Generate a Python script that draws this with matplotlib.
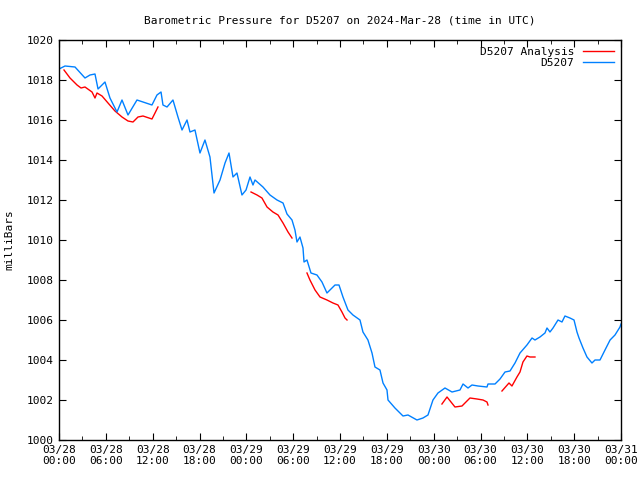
import numpy as np
import matplotlib
matplotlib.use("Agg")
import matplotlib.pyplot as plt
from matplotlib.ticker import MultipleLocator

# hours since 2024-03-28 00:00 UTC, pressure in mbar
obs_hours = [0, 0.77, 2.05, 3.33, 3.97, 4.61, 5.0, 5.89, 6.53, 7.43, 8.07, 8.84, 9.99,
             10.76, 11.91, 12.55, 13.07, 13.32, 13.84, 14.6, 15.24, 15.76, 16.4, 16.78,
             17.42, 18.06, 18.7, 19.34, 19.86, 20.63, 21.27, 21.78, 22.29, 22.8, 23.44,
             23.96, 24.47, 24.85, 25.11, 26.13, 27.03, 27.93, 28.7, 29.21, 29.85, 30.23,
             30.49, 30.87, 31.26, 31.39, 31.77, 32.28, 33.05, 33.69, 34.33, 35.36, 35.87,
             36.38, 37.02, 37.66, 38.56, 38.94, 39.58, 40.1, 40.48, 41.12, 41.51, 42.02,
             42.15, 43.04, 44.07, 44.71, 45.86, 46.63, 47.27, 47.91, 48.55, 49.45, 50.35,
             51.37, 51.76, 52.4, 52.91, 53.68, 54.83, 54.96, 55.86, 56.5, 57.14, 57.78,
             58.42, 59.06, 59.95, 60.6, 60.98, 61.62, 62.26, 62.52, 62.9, 63.29, 63.93,
             64.44, 64.82, 65.46, 65.98, 66.36, 66.62, 67.13, 67.64, 68.28, 68.67, 69.31,
             69.95, 70.6, 71.23, 71.87, 72.0]
obs_press = [1018.55, 1018.7, 1018.65, 1018.1, 1018.25, 1018.3, 1017.55, 1017.9, 1017.1,
             1016.4, 1017.0, 1016.25, 1017.0, 1016.9, 1016.75, 1017.25, 1017.4, 1016.75,
             1016.65, 1017.0, 1016.15, 1015.5, 1016.0, 1015.4, 1015.5, 1014.35, 1015.0,
             1014.15, 1012.35, 1013.0, 1013.85, 1014.35, 1013.15, 1013.35, 1012.25, 1012.5,
             1013.15, 1012.75, 1013.0, 1012.65, 1012.25, 1012.0, 1011.85, 1011.3, 1011.0,
             1010.5, 1009.9, 1010.15, 1009.6, 1008.9, 1009.0, 1008.35, 1008.25, 1007.9,
             1007.35, 1007.75, 1007.75, 1007.15, 1006.5, 1006.25, 1006.0, 1005.4, 1005.0,
             1004.35, 1003.65, 1003.5, 1002.85, 1002.5, 1002.0, 1001.6, 1001.2, 1001.25,
             1001.0, 1001.1, 1001.25, 1002.0, 1002.35, 1002.6, 1002.4, 1002.5, 1002.8,
             1002.6, 1002.75, 1002.7, 1002.65, 1002.8, 1002.8, 1003.05, 1003.4, 1003.45,
             1003.85, 1004.35, 1004.75, 1005.1, 1005.0, 1005.15, 1005.35, 1005.6, 1005.4,
             1005.6, 1006.0, 1005.9, 1006.2, 1006.1, 1006.0, 1005.4, 1005.1, 1004.6,
             1004.15, 1003.85, 1004.0, 1004.0, 1004.5, 1005.0, 1005.25, 1005.65, 1005.8]

# analysis segments (gaps between runs)
ana_hours = [
    [0.64, 1.41, 2.31, 2.82, 3.33, 4.23, 4.61, 4.87, 5.51, 6.28, 7.17, 8.07, 8.84, 9.48,
     10.12, 10.76, 11.91, 12.3, 12.68],
    [24.6, 25.37, 26.0, 26.65, 27.41, 28.06, 28.7, 29.34, 29.85],
    [31.77, 32.15, 32.8, 33.44, 34.33, 35.1, 35.74, 36.25, 36.64, 36.9],
    [49.06, 49.71, 50.22, 50.73, 51.63, 52.01, 52.65, 53.55, 54.32, 54.83, 54.96],
    [56.75, 57.65, 58.03, 58.67, 59.06, 59.44, 59.95, 60.34, 60.98],
]
ana_press = [
    [1018.5, 1018.1, 1017.75, 1017.6, 1017.65, 1017.4, 1017.1, 1017.35, 1017.2, 1016.85,
     1016.45, 1016.15, 1015.95, 1015.9, 1016.15, 1016.2, 1016.05, 1016.35, 1016.65],
    [1012.4, 1012.25, 1012.1, 1011.65, 1011.4, 1011.25, 1010.85, 1010.4, 1010.1],
    [1008.35, 1008.0, 1007.5, 1007.15, 1007.0, 1006.85, 1006.75, 1006.4, 1006.1, 1006.0],
    [1001.8, 1002.15, 1001.9, 1001.65, 1001.7, 1001.85, 1002.1, 1002.05, 1002.0, 1001.9, 1001.75],
    [1002.45, 1002.85, 1002.7, 1003.15, 1003.4, 1003.9, 1004.2, 1004.15, 1004.15],
]

tick_labels = ["03/28\n00:00", "03/28\n06:00", "03/28\n12:00", "03/28\n18:00",
               "03/29\n00:00", "03/29\n06:00", "03/29\n12:00", "03/29\n18:00",
               "03/30\n00:00", "03/30\n06:00", "03/30\n12:00", "03/30\n18:00",
               "03/31\n00:00"]

plt.rcParams['font.family'] = 'DejaVu Sans Mono'
plt.rcParams['font.size'] = 8

fig = plt.figure(figsize=(6.4, 4.8), dpi=100)
ax = fig.add_axes([59 / 640, 40 / 480, 562 / 640, 400 / 480])

for i, (h, p) in enumerate(zip(ana_hours, ana_press)):
    ax.plot(h, p, color='#ff0000', lw=1, label='D5207 Analysis' if i == 0 else None)
ax.plot(obs_hours, obs_press, color='#0080ff', lw=1, label='D5207')

ax.set_xlim(0, 72)
ax.set_ylim(1000, 1020)
ax.set_xticks(np.arange(0, 73, 6))
ax.set_xticklabels(tick_labels)
ax.xaxis.set_minor_locator(MultipleLocator(3))
ax.set_yticks(np.arange(1000, 1021, 2))
ax.tick_params(which='both', direction='in', top=True, right=True, labelsize=8)
ax.tick_params(which='major', length=5)
ax.tick_params(which='minor', length=3)
for s in ax.spines.values():
    s.set_linewidth(1)

ax.set_ylabel('milliBars', fontsize=8, labelpad=9)
ax.set_title('Barometric Pressure for D5207 on 2024-Mar-28 (time in UTC)', fontsize=8, pad=12)
ax.legend(loc='upper right', frameon=False, markerfirst=False, fontsize=8,
          handlelength=2.8, borderaxespad=0.2, labelspacing=0.1)

fig.savefig('out.png', dpi=100)
